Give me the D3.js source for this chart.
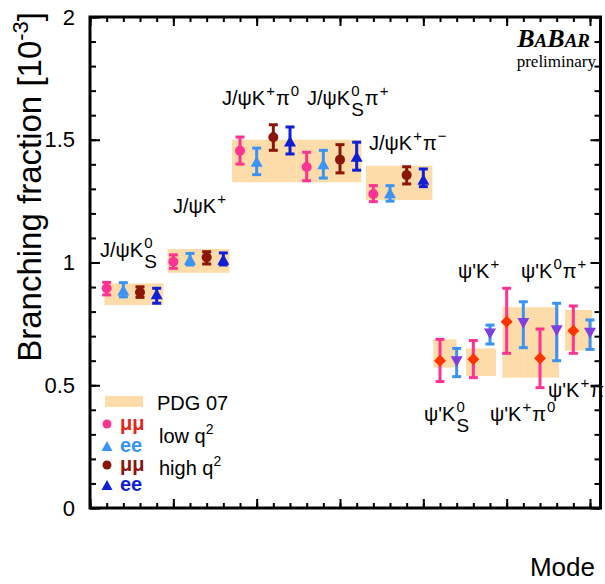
<!DOCTYPE html>
<html>
<head>
<meta charset="utf-8">
<script src="https://cdn.jsdelivr.net/npm/d3@7"></script>
<style>
  body { margin: 0; background: #fff; }
  svg { display: block; font-family: "Liberation Sans", Arial, sans-serif; }
</style>
</head>
<body>
<div id="chart"></div>
<script>
// ---- data (branching fraction, units of 1e-3) ----
// J/psi modes: 4 points each (low q2 mumu, low q2 ee, high q2 mumu, high q2 ee)
var lowMuMu     = [0.895, 1.003, 1.455, 1.389, 1.279];
var lowMuMuLo   = [0.868, 0.976, 1.401, 1.333, 1.248];
var lowMuMuHi   = [0.919, 1.031, 1.511, 1.449, 1.313];
var lowEE       = [0.888, 1.013, 1.412, 1.402, 1.284];
var lowEELo     = [0.860, 0.990, 1.358, 1.344, 1.250];
var lowEEHi     = [0.918, 1.037, 1.466, 1.457, 1.313];
var highMuMu    = [0.879, 1.021, 1.510, 1.419, 1.356];
var highMuMuLo  = [0.858, 0.994, 1.457, 1.365, 1.320];
var highMuMuHi  = [0.901, 1.044, 1.561, 1.480, 1.390];
var highEE      = [0.872, 1.013, 1.494, 1.432, 1.339];
var highEELo    = [0.834, 0.990, 1.442, 1.376, 1.309];
var highEEHi    = [0.895, 1.039, 1.552, 1.490, 1.381];

// psi(2S) modes: 2 points each (mumu, ee)
var psiMuMu     = [0.600, 0.606, 0.759, 0.610, 0.722];
var psiMuMuLo   = [0.515, 0.531, 0.630, 0.490, 0.630];
var psiMuMuHi   = [0.687, 0.682, 0.895, 0.729, 0.823];
var psiEE       = [0.596, 0.709, 0.752, 0.722, 0.712];
var psiEELo     = [0.535, 0.668, 0.653, 0.600, 0.646];
var psiEEHi     = [0.650, 0.745, 0.840, 0.834, 0.766];

// PDG 07 bands: mode-slot range and value range
var pdgFrom = [0.86, 4.66, 8.52, 12.40, 16.56, 20.60, 22.56, 24.74, 26.06, 28.50];
var pdgTo   = [4.40, 8.36, 12.40, 16.28, 20.54, 22.00, 24.36, 26.06, 28.14, 30.14];
var pdgLo   = [0.827, 0.958, 1.327, 1.327, 1.255, 0.572, 0.538, 0.531, 0.531, 0.641];
var pdgHi   = [0.915, 1.055, 1.500, 1.500, 1.394, 0.687, 0.650, 0.818, 0.818, 0.807];

// mode labels: plain strings and [superscript, subscript] pairs
var modeLabels = [
  ["J/ψK", ["0", "S"]],
  ["J/ψK", ["+", null]],
  ["J/ψK", ["+", null], "π", ["0", null]],
  ["J/ψK", ["0", "S"], "π", ["+", null]],
  ["J/ψK", ["+", null], "π", ["−", null]],
  ["ψ'K", ["0", "S"]],
  ["ψ'K", ["+", null]],
  ["ψ'K", ["+", null], "π", ["0", null]],
  ["ψ'K", ["0", null], "π", ["+", null]],
  ["ψ'K", ["+", null], "π", ["−", null]]
];
// label anchor (left x in pixels, baseline y in pixels)
var labelPos = [[100, 257], [173, 213], [222, 105], [307, 105], [369, 150],
                [424, 421], [458, 278], [490, 421], [521, 278], [548, 397]];

var yTicks = [0, 0.5, 1, 1.5, 2];

// ---- layout ----
var svgWidth = 605, svgHeight = 584;
var plotLeft = 90, plotRight = 600.5, plotTop = 17, plotBottom = 508;

var svg = d3.select("#chart").append("svg")
  .attr("width", svgWidth)
  .attr("height", svgHeight);

var x = d3.scaleLinear().domain([0, 30.63]).range([plotLeft, plotRight]);
var y = d3.scaleLinear().domain([0, 2]).range([plotBottom, plotTop]);

var colors = {
  pink: "#ff3392", lightBlue: "#3a93f5", darkRed: "#8a1508", blue: "#0f1fd6",
  diamond: "#ff3300", purple: "#8040de", band: "#fddcaa"
};

// ---- PDG bands ----
svg.append("g").selectAll("rect")
  .data(pdgFrom.map(function(d, i) { return i; }))
  .enter().append("rect")
  .attr("x", i => x(pdgFrom[i]))
  .attr("width", i => x(pdgTo[i]) - x(pdgFrom[i]))
  .attr("y", i => y(pdgHi[i]))
  .attr("height", i => y(pdgLo[i]) - y(pdgHi[i]))
  .attr("fill", colors.band);

// ---- points ----
function buildSeries(vals, lo, hi, slot0, step) {
  return vals.map(function(v, i) {
    return { slot: slot0 + i * step, v: v, lo: lo[i], hi: hi[i] };
  });
}

var series = [
  { data: buildSeries(lowMuMu, lowMuMuLo, lowMuMuHi, 1, 4), marker: "circle", fill: colors.pink, bar: colors.pink },
  { data: buildSeries(lowEE, lowEELo, lowEEHi, 2, 4), marker: "up", fill: colors.lightBlue, bar: colors.lightBlue },
  { data: buildSeries(highMuMu, highMuMuLo, highMuMuHi, 3, 4), marker: "circle", fill: colors.darkRed, bar: colors.darkRed },
  { data: buildSeries(highEE, highEELo, highEEHi, 4, 4), marker: "up", fill: colors.blue, bar: colors.blue },
  { data: buildSeries(psiMuMu, psiMuMuLo, psiMuMuHi, 21, 2), marker: "diamond", fill: colors.diamond, bar: colors.pink },
  { data: buildSeries(psiEE, psiEELo, psiEEHi, 22, 2), marker: "down", fill: colors.purple, bar: colors.lightBlue }
];

function markerPath(type, s) {
  if (type === "circle") return d3.symbol(d3.symbolCircle, Math.PI * s * s / 4)();
  if (type === "diamond") {
    var h = s / 2;
    return "M0," + (-h) + "L" + h + ",0L0," + h + "L" + (-h) + ",0Z";
  }
  var w = s / 2, hh = s * 0.45;
  if (type === "up") return "M0," + (-hh) + "L" + w + "," + hh + "L" + (-w) + "," + hh + "Z";
  return "M0," + hh + "L" + w + "," + (-hh) + "L" + (-w) + "," + (-hh) + "Z";
}

var capW = 4.5;
series.forEach(function(s) {
  var g = svg.append("g");
  var bars = g.selectAll("g.err").data(s.data).enter().append("g")
    .attr("stroke", s.bar).attr("stroke-width", 3);
  bars.append("line")
    .attr("x1", d => x(d.slot)).attr("x2", d => x(d.slot))
    .attr("y1", d => y(d.lo)).attr("y2", d => y(d.hi));
  bars.append("line")
    .attr("x1", d => x(d.slot) - capW).attr("x2", d => x(d.slot) + capW)
    .attr("y1", d => y(d.lo)).attr("y2", d => y(d.lo));
  bars.append("line")
    .attr("x1", d => x(d.slot) - capW).attr("x2", d => x(d.slot) + capW)
    .attr("y1", d => y(d.hi)).attr("y2", d => y(d.hi));
  var size = s.marker === "circle" ? 10 : 12;
  g.selectAll("path.mk").data(s.data).enter().append("path")
    .attr("d", markerPath(s.marker, size))
    .attr("transform", d => `translate(${x(d.slot)},${y(d.v)})`)
    .attr("fill", s.fill);
});

// ---- axes ----
function styleAxis(sel) {
  sel.select(".domain").remove();
  sel.selectAll(".tick line").attr("stroke", "#000").attr("stroke-width", 2);
}

var majorX = d3.range(0, 31, 5), minorX = d3.range(0, 31, 1);
var majorY = yTicks, minorY = d3.range(0, 21).map(d => d / 10);

svg.append("g").attr("transform", `translate(0,${plotBottom})`)
  .call(d3.axisBottom(x).tickValues(minorX).tickSize(-5).tickFormat("")).call(styleAxis);
svg.append("g").attr("transform", `translate(0,${plotBottom})`)
  .call(d3.axisBottom(x).tickValues(majorX).tickSize(-9).tickFormat("")).call(styleAxis);
svg.append("g").attr("transform", `translate(0,${plotTop})`)
  .call(d3.axisTop(x).tickValues(minorX).tickSize(-5).tickFormat("")).call(styleAxis);
svg.append("g").attr("transform", `translate(0,${plotTop})`)
  .call(d3.axisTop(x).tickValues(majorX).tickSize(-9).tickFormat("")).call(styleAxis);
svg.append("g").attr("transform", `translate(${plotRight},0)`)
  .call(d3.axisRight(y).tickValues(minorY).tickSize(-6).tickFormat("")).call(styleAxis);
svg.append("g").attr("transform", `translate(${plotRight},0)`)
  .call(d3.axisRight(y).tickValues(majorY).tickSize(-10).tickFormat("")).call(styleAxis);
svg.append("g").attr("transform", `translate(${plotLeft},0)`)
  .call(d3.axisLeft(y).tickValues(minorY).tickSize(-6).tickFormat("")).call(styleAxis);

var yAxis = svg.append("g").attr("transform", `translate(${plotLeft},0)`)
  .call(d3.axisLeft(y).tickValues(majorY).tickSize(-10).tickPadding(15).tickFormat(d3.format("")))
  .call(styleAxis);
yAxis.selectAll("text")
  .attr("font-size", "22px")
  .attr("font-family", "'Liberation Sans', Arial, sans-serif")
  .attr("fill", "#000");

svg.append("rect")
  .attr("x", plotLeft).attr("y", plotTop)
  .attr("width", plotRight - plotLeft).attr("height", plotBottom - plotTop)
  .attr("fill", "none").attr("stroke", "#000").attr("stroke-width", 3);

// ---- axis titles ----
var yTitle = svg.append("text")
  .attr("transform", "translate(41,12) rotate(-90)")
  .attr("text-anchor", "end")
  .attr("font-size", "33px");
yTitle.append("tspan").text("Branching fraction [10");
yTitle.append("tspan").attr("dy", -13).attr("font-size", "22px").text("-3");
yTitle.append("tspan").attr("dy", 13).text("]");

svg.append("text")
  .attr("x", 595).attr("y", 576)
  .attr("text-anchor", "end")
  .attr("font-size", "26px")
  .text("Mode");

// ---- mode labels ----
function richLabel(parts, px, py) {
  var g = svg.append("g").attr("font-size", "20px");
  var cx = px;
  parts.forEach(function(p) {
    if (typeof p === "string") {
      var t = g.append("text").attr("x", cx).attr("y", py).text(p);
      cx += t.node().getComputedTextLength();
    } else {
      var w = 0;
      if (p[0]) {
        var sp = g.append("text").attr("x", cx + 1).attr("y", py - 9)
          .attr("font-size", "15px").text(p[0]);
        w = Math.max(w, sp.node().getComputedTextLength() + 1);
      }
      if (p[1]) {
        var sb = g.append("text").attr("x", cx + 1).attr("y", py + 11)
          .attr("font-size", "19px").text(p[1]);
        w = Math.max(w, sb.node().getComputedTextLength() + 1);
      }
      cx += w + 1;
    }
  });
}
modeLabels.forEach(function(parts, i) {
  richLabel(parts, labelPos[i][0], labelPos[i][1]);
});

// ---- BaBar logo ----
var logo = svg.append("text")
  .attr("x", 590).attr("y", 47)
  .attr("text-anchor", "end")
  .attr("font-family", "'Liberation Serif', 'Times New Roman', serif")
  .attr("font-style", "italic").attr("font-weight", "bold");
logo.append("tspan").attr("font-size", "26px").text("B");
logo.append("tspan").attr("font-size", "19px").text("A");
logo.append("tspan").attr("font-size", "26px").text("B");
logo.append("tspan").attr("font-size", "19px").text("AR");

svg.append("text")
  .attr("x", 596).attr("y", 67)
  .attr("text-anchor", "end")
  .attr("font-family", "'Liberation Serif', 'Times New Roman', serif")
  .attr("font-size", "17px")
  .text("preliminary");

// ---- legend ----
var legend = svg.append("g");
legend.append("rect")
  .attr("x", 105).attr("y", 396).attr("width", 38).attr("height", 11)
  .attr("fill", colors.band);
legend.append("text").attr("x", 157).attr("y", 410).attr("font-size", "20px").text("PDG 07");

var legendMarks = [
  { marker: "circle", fill: colors.pink, label: "μμ", labelColor: "#e8231a", yy: 424 },
  { marker: "up", fill: colors.lightBlue, label: "ee", labelColor: colors.lightBlue, yy: 446 },
  { marker: "circle", fill: colors.darkRed, label: "μμ", labelColor: colors.darkRed, yy: 465 },
  { marker: "up", fill: colors.blue, label: "ee", labelColor: colors.blue, yy: 485 }
];
legendMarks.forEach(function(m) {
  legend.append("path")
    .attr("d", markerPath(m.marker, m.marker === "circle" ? 9 : 11))
    .attr("transform", `translate(107,${m.yy})`)
    .attr("fill", m.fill);
  legend.append("text")
    .attr("x", 120).attr("y", m.yy + 6)
    .attr("font-size", "20px").attr("font-weight", "bold")
    .attr("fill", m.labelColor)
    .text(m.label);
});

var q2Labels = [["low q", 443], ["high q", 475]];
q2Labels.forEach(function(q) {
  var t = legend.append("text").attr("x", 159).attr("y", q[1]).attr("font-size", "20px");
  t.append("tspan").text(q[0]);
  t.append("tspan").attr("dy", -9).attr("font-size", "14px").text("2");
});
</script>
</body>
</html>
